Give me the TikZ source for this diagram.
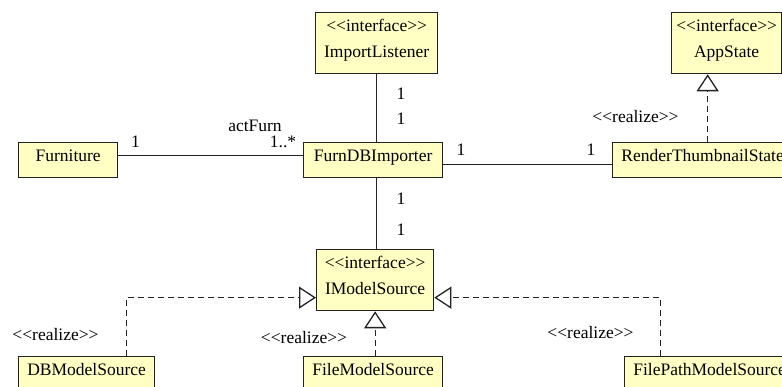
\documentclass[tikz,border=0pt]{standalone}
\usepackage{fontspec}
\setmainfont{Liberation Serif}[Ligatures=TeXOff]
\usetikzlibrary{arrows.meta}
\definecolor{boxfill}{HTML}{FFFFC4}
\definecolor{edgecol}{HTML}{222222}
\tikzset{
  cls/.style={draw=edgecol, fill=boxfill, line width=1.3pt, inner sep=0pt, anchor=north west},
  txt/.style={inner sep=0pt, anchor=base, font=\fontsize{17.5}{21}\selectfont},
  assoc/.style={draw=edgecol, line width=1.3pt},
  realize/.style={draw=edgecol, line width=1.3pt, dash pattern=on 6pt off 4pt,
    -{Triangle[open, length=17pt, width=22pt, line width=1.3pt]}},
}
\begin{document}
\begin{tikzpicture}[x=1pt,y=-1pt]
\useasboundingbox (0,0) rectangle (782,387);
\clip (0,0) rectangle (782,387);

% classes
\node[cls, minimum width=99pt,  minimum height=35pt] (furn) at (18,142) {};
\node[cls, minimum width=139pt, minimum height=35pt] (imp)  at (303,142) {};
\node[cls, minimum width=122pt, minimum height=61pt] (il)   at (315,12) {};
\node[cls, minimum width=110pt, minimum height=61pt] (app)  at (671,12) {};
\node[cls, minimum width=180pt, minimum height=35pt] (rts)  at (612,142) {};
\node[cls, minimum width=117pt, minimum height=61pt] (ims)  at (316,249) {};
\node[cls, minimum width=136pt, minimum height=35pt] (dbm)  at (18,356) {};
\node[cls, minimum width=139pt, minimum height=35pt] (fms)  at (303,356) {};
\node[cls, minimum width=170pt, minimum height=35pt] (fpm)  at (624,356) {};

% class texts
\node[txt] (furnT) at ([yshift=-19.5pt]furn.north) {Furniture};
\node[txt] (impT)  at ([yshift=-19.5pt]imp.north) {FurnDBImporter};
\node[txt] (ilS)   at ([yshift=-19.5pt]il.north) {<<interface>>};
\node[txt] (ilT)   at ([yshift=-45.5pt]il.north) {ImportListener};
\node[txt] (appS)  at ([yshift=-19.5pt]app.north) {<<interface>>};
\node[txt] (appT)  at ([yshift=-45.5pt]app.north) {AppState};
\node[txt] (rtsT)  at ([yshift=-19.5pt]rts.north) {RenderThumbnailState};
\node[txt] (imsS)  at ([yshift=-19.5pt]ims.north) {<<interface>>};
\node[txt] (imsT)  at ([yshift=-45.5pt]ims.north) {IModelSource};
\node[txt] (dbmT)  at ([yshift=-19.5pt]dbm.north) {DBModelSource};
\node[txt] (fmsT)  at ([yshift=-19.5pt]fms.north) {FileModelSource};
\node[txt] (fpmT)  at ([yshift=-19.5pt]fpm.north) {FilePathModelSource};

% associations
\draw[assoc] ([yshift=4.5pt]furn.east) -- ([yshift=4.5pt]furn.east -| imp.west);
\draw[assoc] (il.south) -- (il.south |- imp.north);
\draw[assoc] ([yshift=-4.5pt]imp.east) -- ([yshift=-4.5pt]imp.east -| rts.west);
\draw[assoc] (ims.north -| il.south) -- (imp.south -| il.south);

% association labels
\node[txt] (a1)  at (135.5,148) {1};
\node[txt] (a2)  at (283,148) {1..*};
\node[txt] (a3)  at (255,132) {actFurn};
\node[txt] (b1)  at (401,100) {1};
\node[txt] (b2)  at (401,125) {1};
\node[txt] (c1)  at (461,156) {1};
\node[txt] (c2)  at (591,156) {1};
\node[txt] (d1)  at (401,205) {1};
\node[txt] (d2)  at (401,236) {1};

% realizations
\draw[realize] ([xshift=5pt]rts.north) -- ([xshift=5pt]rts.north |- app.south);
\draw[realize] ([xshift=40pt]dbm.north) |- ([yshift=-17.5pt]ims.west);
\draw[realize] (ims.south |- fms.north) -- (ims.south);
\draw[realize] ([xshift=-49pt]fpm.north) |- ([yshift=-17.5pt]ims.east);

% realize labels
\node[txt] (r1) at (635.5,123) {<<realize>>};
\node[txt] (r2) at (55.5,341) {<<realize>>};
\node[txt] (r3) at (304,344) {<<realize>>};
\node[txt] (r4) at (590.5,339) {<<realize>>};
\end{tikzpicture}
\end{document}
